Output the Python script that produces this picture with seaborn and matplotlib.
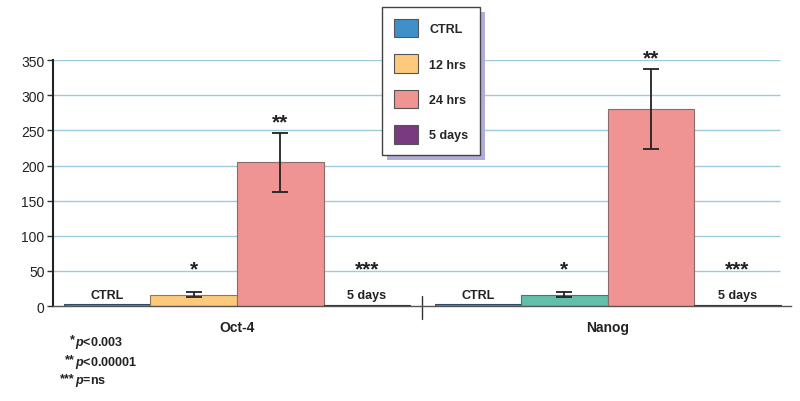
import matplotlib
matplotlib.use('Agg')
import matplotlib.pyplot as plt
import matplotlib.patches as mpatches
import seaborn as sns
import pandas as pd
import numpy as np

genes = ['Oct-4', 'Nanog']
conditions = ['CTRL', '12 hrs', '24 hrs', '5 days']
oct4_values = [3, 16.5, 205, 2]
nanog_values = [3, 16.5, 281, 2]
oct4_errors = [0, 4, 42, 0]
nanog_errors = [0, 4, 57, 0]
oct4_stars = ['', '*', '**', '***']
nanog_stars = ['', '*', '**', '***']
footnotes = [('*', '<0.003'), ('**', '<0.00001'), ('***', '=ns')]

colors = {'CTRL': '#3f8fca', '12 hrs': '#fdca7c', '24 hrs': '#ef9393', '5 days': '#7a3a80'}
nanog_12_color = '#62bfa9'
edge_colors = {'CTRL': '#2f4d66', '12 hrs': '#8a7a5a', '24 hrs': '#8a6a6a', '5 days': '#3f2545'}

df = pd.DataFrame({
    'gene': np.repeat(genes, len(conditions)),
    'condition': conditions * len(genes),
    'value': oct4_values + nanog_values,
    'err': oct4_errors + nanog_errors,
    'star': oct4_stars + nanog_stars,
})

sns.set_style('white')
plt.rcParams['font.family'] = ['Liberation Sans', 'DejaVu Sans']
plt.rcParams['mathtext.fontset'] = 'custom'
plt.rcParams['mathtext.it'] = 'Liberation Sans:italic:bold'

fig = plt.figure(figsize=(8, 4.02), dpi=100)
ax = fig.add_axes([0.066, 0.236, 0.923, 0.612])

sns.barplot(data=df, x='gene', y='value', hue='condition', palette=colors, saturation=1,
            width=0.934, errorbar=None, linewidth=0.8, legend=False, ax=ax)

yticks = np.arange(0, 351, 50)
ax.set_ylim(0, 350)
ax.set_xlim(-0.497, 1.495)
ax.hlines(yticks[1:], -0.497, 1.466, color='#9ccbe0', linewidth=1, zorder=0)
ax.set_yticks(yticks)
ax.set_yticklabels([str(t) for t in yticks], fontsize=10, color='#222222')
ax.tick_params(axis='y', length=4, width=1, direction='out', color='#333333', pad=2, left=True)
ax.tick_params(axis='x', length=0, pad=10)
ax.set_xticks([0, 1])
ax.set_xticklabels(genes, fontsize=10, fontweight='bold', color='#222222')
ax.set_xlabel('')
ax.set_ylabel('')

for s in ['top', 'right']:
    ax.spines[s].set_visible(False)
ax.spines['left'].set_color('#222222')
ax.spines['left'].set_linewidth(1.5)
ax.spines['bottom'].set_color('#555555')
ax.spines['bottom'].set_linewidth(1)

# color bars, error bars, labels
for cond, cont in zip(conditions, ax.containers):
    for gene, bar in zip(genes, cont):
        row = df[(df.gene == gene) & (df.condition == cond)].iloc[0]
        bar.set_edgecolor(edge_colors[cond])
        if gene == 'Nanog' and cond == '12 hrs':
            bar.set_facecolor(nanog_12_color)
            bar.set_edgecolor('#3f7a6a')
        cx = bar.get_x() + bar.get_width() / 2
        if row.err > 0:
            ax.errorbar(cx, row.value, yerr=row.err, color='#222222', capsize=6,
                        elinewidth=1.3, capthick=1.3, zorder=5)
        if cond in ('CTRL', '5 days'):
            ax.text(cx, 16, cond, ha='center', va='center', fontsize=9,
                    fontweight='bold', color='#222222')
        if row.star:
            top = row.value + row.err
            star_y = 54 if top < 40 else top + 16
            ax.text(cx, star_y - 15, row.star, ha='center', va='bottom', fontsize=15,
                    fontweight='bold', color='#222222', clip_on=False)

ax.plot([0.5, 0.5], [-18, 15], color='#333333', linewidth=1, clip_on=False)

# legend with offset shadow
handles = [mpatches.Patch(facecolor=colors[c], edgecolor='#555555', linewidth=0.8, label=c)
           for c in conditions]
leg = fig.legend(handles=handles, loc='upper left', bbox_to_anchor=(0.478, 0.98),
                 frameon=True, fancybox=False, edgecolor='#444444', framealpha=1,
                 handlelength=1.9, handleheight=1.9, labelspacing=1.35, borderpad=0.95,
                 handletextpad=0.9, borderaxespad=0,
                 prop={'weight': 'bold', 'size': 9})
leg.get_frame().set_linewidth(1)
leg.get_frame().set_facecolor('white')
fig.canvas.draw()
bb = leg.get_window_extent()
shadow = mpatches.Rectangle((bb.x0 + 5, bb.y0 - 5), bb.width, bb.height, transform=None,
                            facecolor='#b3acd9', edgecolor='none', zorder=4)
fig.patches.append(shadow)

# footnotes
ys = [343, 363, 382]
for (st, txt), y in zip(footnotes, ys):
    fy = 1 - y / 402
    fig.text(75 / 800, fy + 0.008, st, ha='right', va='center', fontsize=9, fontweight='bold', color='#222222')
    fig.text(75 / 800, fy, r'$\mathit{p}$' + txt, ha='left', va='center', fontsize=9,
             fontweight='bold', color='#222222')

fig.savefig('out.png', dpi=100)
